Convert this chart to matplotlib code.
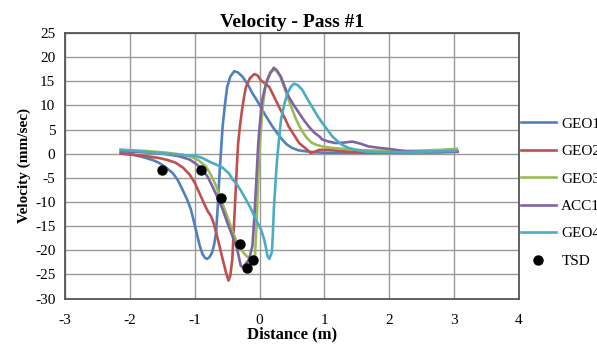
import matplotlib
matplotlib.use("Agg")
import matplotlib.pyplot as plt

# ---- data ----
geo1_x = [-2.14, -1.95, -1.80, -1.65, -1.55, -1.45, -1.34, -1.26, -1.19, -1.12, -1.06, -1.01, -0.96, -0.92, -0.88, -0.84, -0.81, -0.77, -0.73, -0.70, -0.67, -0.645, -0.62, -0.595, -0.57, -0.535, -0.50, -0.45, -0.39, -0.33, -0.26, -0.18, -0.11, -0.03, 0.04, 0.12, 0.20, 0.28, 0.35, 0.42, 0.50, 0.60, 0.71, 0.85, 1.0, 1.3, 1.6, 2.0, 2.4, 2.8, 3.05]
geo1_y = [0.1, -0.2, -0.7, -1.3, -1.9, -2.8, -4.0, -5.5, -7.4, -9.4, -11.5, -14.2, -17.0, -19.2, -20.8, -21.6, -21.8, -21.4, -20.4, -18.8, -16.3, -11.0, -4.7, 0.5, 5.6, 10.0, 13.8, 16.0, 17.1, 16.8, 15.9, 14.3, 12.5, 10.8, 9.1, 7.3, 5.6, 4.1, 2.9, 1.9, 1.2, 0.7, 0.5, 0.3, 0.2, 0.2, 0.2, 0.2, 0.3, 0.3, 0.4]

geo2_x = [-2.14, -1.90, -1.70, -1.55, -1.42, -1.29, -1.18, -1.08, -1.00, -0.93, -0.86, -0.80, -0.75, -0.71, -0.67, -0.62, -0.57, -0.52, -0.48, -0.45, -0.42, -0.395, -0.37, -0.35, -0.33, -0.30, -0.27, -0.24, -0.21, -0.15, -0.08, -0.03, 0.02, 0.08, 0.15, 0.22, 0.30, 0.38, 0.45, 0.53, 0.61, 0.70, 0.79, 0.85, 0.92, 1.07, 1.3, 1.6, 2.0, 2.4, 2.8, 3.05]
geo2_y = [0.0, -0.3, -0.6, -0.9, -1.3, -1.9, -2.9, -4.3, -6.0, -8.1, -10.2, -11.9, -12.9, -14.3, -16.3, -19.0, -21.8, -24.5, -26.3, -25.2, -21.8, -15.0, -8.1, -2.5, 2.2, 6.0, 9.1, 11.7, 13.8, 15.6, 16.5, 16.2, 15.2, 14.6, 13.8, 11.9, 9.7, 7.6, 5.6, 3.9, 2.2, 1.2, 0.1, 0.4, 0.8, 0.8, 0.5, 0.3, 0.2, 0.3, 0.4, 0.5]

geo3_x = [-2.14, -1.80, -1.50, -1.25, -1.08, -0.95, -0.83, -0.75, -0.67, -0.60, -0.52, -0.45, -0.37, -0.29, -0.21, -0.14, -0.10, -0.07, -0.045, -0.02, 0.01, 0.05, 0.10, 0.16, 0.24, 0.32, 0.40, 0.48, 0.56, 0.64, 0.72, 0.80, 0.88, 0.97, 1.10, 1.30, 1.6, 2.0, 2.4, 2.8, 3.04]
geo3_y = [0.8, 0.6, 0.3, -0.1, -0.5, -1.3, -2.6, -4.4, -6.7, -9.3, -12.2, -14.8, -17.7, -19.8, -21.1, -21.8, -22.3, -21.0, -14.0, -5.0, 3.0, 10.0, 14.8, 16.8, 17.5, 16.0, 13.0, 10.0, 7.2, 5.0, 3.4, 2.3, 1.8, 1.5, 1.2, 1.0, 0.7, 0.6, 0.6, 0.8, 1.0]

acc1_x = [-2.14, -1.80, -1.50, -1.25, -1.08, -0.98, -0.88, -0.80, -0.73, -0.65, -0.57, -0.50, -0.42, -0.37, -0.34, -0.31, -0.29, -0.26, -0.21, -0.16, -0.11, -0.085, -0.06, -0.04, -0.02, 0.01, 0.04, 0.08, 0.12, 0.17, 0.22, 0.27, 0.33, 0.39, 0.45, 0.53, 0.61, 0.68, 0.76, 0.84, 0.92, 0.97, 1.07, 1.17, 1.30, 1.43, 1.55, 1.68, 1.85, 1.99, 2.25, 2.6, 3.05]
acc1_y = [0.5, 0.3, 0.0, -0.5, -1.2, -2.1, -3.3, -4.8, -6.7, -9.0, -11.5, -14.2, -17.0, -18.8, -20.1, -22.0, -23.2, -23.5, -22.8, -21.8, -19.1, -14.0, -8.1, -3.0, 2.2, 7.0, 11.1, 13.5, 15.2, 16.8, 17.8, 17.2, 15.9, 13.8, 11.8, 10.0, 8.4, 7.0, 5.6, 4.4, 3.6, 2.9, 2.5, 2.2, 2.3, 2.5, 2.1, 1.5, 1.2, 1.0, 0.5, 0.3, 0.4]

geo4_x = [-2.14, -1.85, -1.55, -1.25, -0.98, -0.88, -0.78, -0.68, -0.57, -0.47, -0.42, -0.37, -0.29, -0.21, -0.13, -0.06, 0.02, 0.07, 0.10, 0.12, 0.15, 0.19, 0.205, 0.22, 0.245, 0.27, 0.30, 0.33, 0.38, 0.43, 0.48, 0.53, 0.59, 0.66, 0.73, 0.81, 0.89, 0.97, 1.05, 1.12, 1.20, 1.27, 1.37, 1.48, 1.65, 1.9, 2.2, 2.5, 2.8, 3.03]
geo4_y = [0.8, 0.5, 0.1, -0.2, -0.5, -0.9, -1.6, -2.2, -2.9, -4.1, -5.3, -6.0, -7.6, -9.5, -11.5, -13.6, -15.6, -17.7, -19.6, -21.1, -21.8, -20.4, -16.5, -11.5, -6.0, -1.2, 3.0, 7.0, 10.2, 12.5, 13.8, 14.5, 14.2, 13.2, 11.5, 9.7, 7.9, 6.3, 4.9, 3.6, 2.6, 1.85, 1.2, 0.8, 0.4, 0.3, 0.3, 0.4, 0.5, 0.6]

tsd_x = [-1.51, -0.90, -0.60, -0.30, -0.20, -0.10]
tsd_y = [-3.3, -3.4, -9.2, -18.8, -23.7, -22.0]

series_labels = ["GEO1", "GEO2", "GEO3", "ACC1", "GEO4", "TSD"]
x_ticks = [-3, -2, -1, 0, 1, 2, 3, 4]
y_ticks = [25, 20, 15, 10, 5, 0, -5, -10, -15, -20, -25, -30]

colors = ["#4F81BD", "#C0504D", "#9BBB59", "#8064A2", "#4BACC6"]

plt.rcParams['font.family'] = ['Liberation Serif', 'DejaVu Serif']
plt.rcParams['axes.unicode_minus'] = False

fig = plt.figure(figsize=(5.97, 3.48), dpi=100)
ax = fig.add_axes([65/597, 1 - 298.5/348, (519 - 65)/597, (298.5 - 33)/348])

lines_x = [geo1_x, geo2_x, geo3_x, acc1_x, geo4_x]
lines_y = [geo1_y, geo2_y, geo3_y, acc1_y, geo4_y]
for xs, ys, c, lab in zip(lines_x, lines_y, colors, series_labels[:5]):
    ax.plot(xs, ys, color=c, lw=1.9, label=lab, solid_joinstyle='round', zorder=3)
ax.plot(tsd_x, tsd_y, 'o', color='black', ms=6.5, label=series_labels[5], zorder=4)

ax.set_xlim(-3, 4)
ax.set_ylim(-30, 25)
ax.set_xticks(x_ticks)
ax.set_yticks(y_ticks)
ax.grid(True, color='#999999', lw=1.0)
ax.set_axisbelow(True)
ax.tick_params(length=0, labelsize=11)
ax.tick_params(axis='y', pad=7)
ax.tick_params(axis='x', pad=11)
for s in ax.spines.values():
    s.set_color('#555555')
    s.set_linewidth(1.3)

ax.set_title("Velocity - Pass #1", fontsize=14, fontweight='bold', pad=4)
ax.set_xlabel("Distance (m)", fontsize=12, fontweight='bold', labelpad=0)
ax.set_ylabel("Velocity (mm/sec)", fontsize=11, fontweight='bold', labelpad=3)

leg = ax.legend(loc='upper left', bbox_to_anchor=(519/597 + 0.003, 1 - 117/348),
                bbox_transform=fig.transFigure, frameon=False, fontsize=11,
                handlelength=2.3, handletextpad=0.35, labelspacing=0.9,
                borderaxespad=0, borderpad=0)

fig.savefig("out.png", dpi=100)
